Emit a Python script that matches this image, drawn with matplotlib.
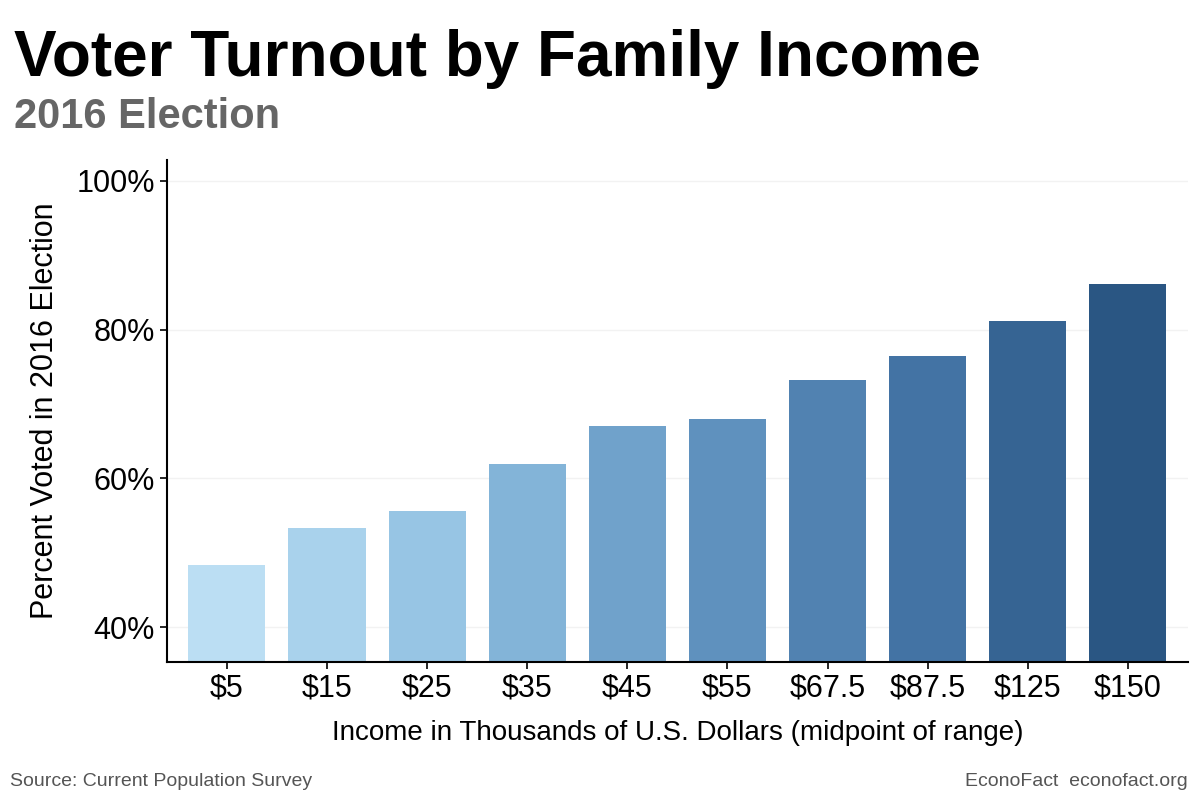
import numpy as np
import matplotlib.pyplot as plt
from matplotlib.colors import LinearSegmentedColormap
from matplotlib.ticker import FuncFormatter

plt.rcParams['font.family'] = ['Liberation Sans', 'DejaVu Sans']

income_labels = ["$5", "$15", "$25", "$35", "$45", "$55", "$67.5", "$87.5", "$125", "$150"]
turnout = [48.3, 53.3, 55.6, 61.9, 67.1, 68.0, 73.2, 76.4, 81.1, 86.1]

cmap = LinearSegmentedColormap.from_list("blues", ["#BBDEF3", "#92C2E2", "#6699C4", "#4677A8", "#2A5683"])
colors = [cmap(v) for v in np.linspace(0, 1, len(turnout))]

fig = plt.figure(figsize=(12, 8), dpi=100)
ax = fig.add_axes([0.139, 0.1725, 0.851, 0.6275])

x = np.arange(len(turnout))
ax.bar(x, turnout, width=0.77, color=colors, zorder=2)

ax.set_xlim(-0.6, len(turnout) - 0.4)
ax.set_ylim(35.3, 102.8)
ax.set_yticks([40, 60, 80, 100])
ax.yaxis.set_major_formatter(FuncFormatter(lambda v, p: f"{v:.0f}%"))
ax.set_xticks(x)
ax.set_xticklabels(income_labels)
ax.tick_params(labelsize=22, length=5, width=1.2, colors="black")
ax.grid(axis="y", color="#F2F2F2", linewidth=1, zorder=0)

for s in ["top", "right"]:
    ax.spines[s].set_visible(False)
for s in ["left", "bottom"]:
    ax.spines[s].set_linewidth(1.5)

ax.set_ylabel("Percent Voted in 2016 Election", fontsize=22, labelpad=12)
ax.set_xlabel("Income in Thousands of U.S. Dollars (midpoint of range)", fontsize=20, labelpad=12)

fig.text(0.012, 0.905, "Voter Turnout by Family Income", fontsize=46, fontweight="bold", ha="left")
fig.text(0.012, 0.84, "2016 Election", fontsize=30, fontweight="bold", color="#666666", ha="left")
fig.text(0.008, 0.018, "Source: Current Population Survey", fontsize=14, color="#555555", ha="left")
fig.text(0.99, 0.018, "EconoFact  econofact.org", fontsize=14, color="#555555", ha="right")

fig.savefig("out.png", dpi=100)
